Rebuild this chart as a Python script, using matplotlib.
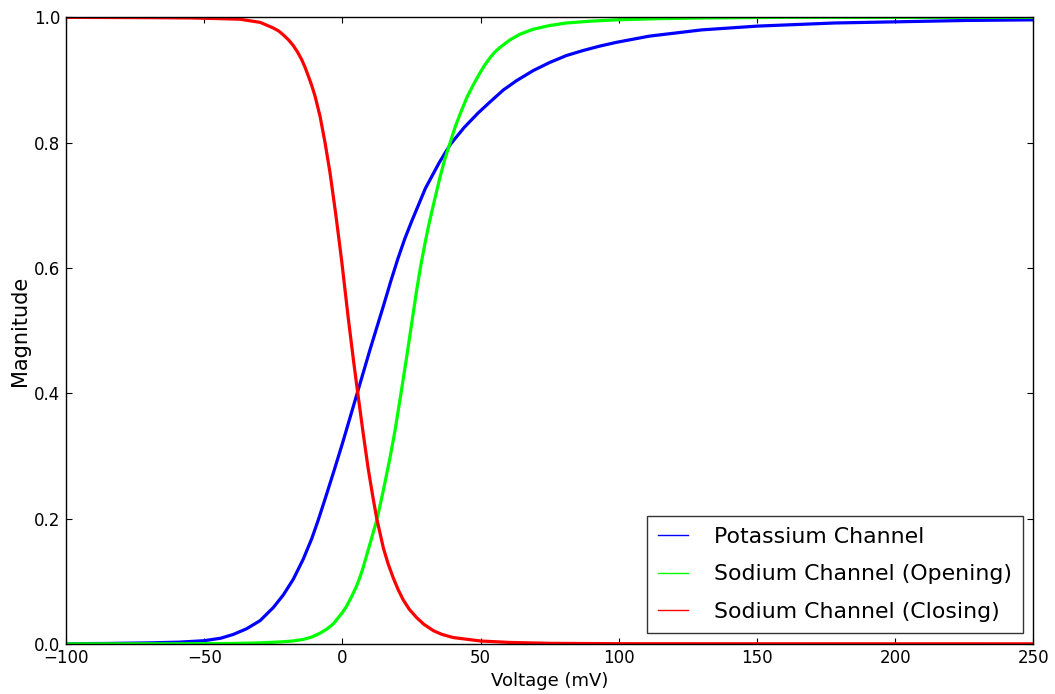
import matplotlib
matplotlib.use("Agg")
import matplotlib.pyplot as plt

# Potassium channel
k_voltage = [-100, -85, -70, -59, -50, -44, -39.5, -34.7, -29.8, -25, -21.4, -17.8,
             -14.2, -11.1, -8.8, -6.3, -3, 0, 3, 6, 10, 15, 17.5, 20, 22.5, 25, 30,
             35, 39, 44, 49, 53.4, 58.2, 63, 69, 75, 81, 87, 93, 99, 111, 130, 150,
             178, 202, 225, 250]
k_value = [0.0002, 0.0006, 0.0015, 0.0027, 0.005, 0.009, 0.015, 0.024, 0.037, 0.058,
           0.078, 0.103, 0.135, 0.168, 0.197, 0.231, 0.277, 0.32, 0.365, 0.41, 0.47,
           0.542, 0.579, 0.614, 0.646, 0.674, 0.727, 0.768, 0.797, 0.824, 0.847,
           0.865, 0.884, 0.899, 0.915, 0.928, 0.939, 0.947, 0.954, 0.960, 0.970,
           0.980, 0.986, 0.991, 0.993, 0.995, 0.996]

# Sodium channel opening
na_open_voltage = [-100, -60, -40, -30, -22.6, -18, -14.2, -11, -8.1, -5.5, -3.3, 0,
                   1.5, 3.5, 5.1, 6.3, 7.5, 9, 10.5, 12.4, 14.8, 17.2, 19, 21, 23.2,
                   25, 26.8, 28.3, 29.8, 31.2, 32.6, 34, 35.3, 37, 38.9, 40.7, 42.5,
                   45, 47.3, 49.7, 51.5, 53.3, 55, 57, 60.6, 64.2, 69, 75, 81, 90, 99,
                   115, 130, 160, 250]
na_open_value = [0.0, 0.0001, 0.0005, 0.0015, 0.003, 0.0045, 0.007, 0.011, 0.017,
                 0.024, 0.032, 0.05, 0.06, 0.077, 0.092, 0.106, 0.122, 0.145, 0.168,
                 0.197, 0.245, 0.297, 0.34, 0.395, 0.457, 0.51, 0.563, 0.603, 0.638,
                 0.668, 0.695, 0.721, 0.745, 0.773, 0.799, 0.824, 0.845, 0.872, 0.892,
                 0.911, 0.924, 0.935, 0.944, 0.952, 0.964, 0.973, 0.981, 0.987, 0.991,
                 0.994, 0.996, 0.998, 0.999, 1.0, 1.0]

# Sodium channel closing
na_close_voltage = [-100, -70, -55, -45, -37.1, -29.8, -25, -23, -21.4, -19.5, -17.8,
                    -16.3, -14.8, -13.6, -12.4, -11.1, -9.9, -8.1, -6.3, -4.5, -2.4,
                    -0.3, 2.1, 4, 5.7, 7.5, 9.3, 11.1, 12.4, 14.8, 16.5, 18.4, 20.2,
                    22, 24.2, 26.8, 29.5, 32.9, 36, 40.1, 50, 60.6, 75, 100, 150, 250]
na_close_value = [1.0, 0.9995, 0.999, 0.998, 0.997, 0.992, 0.983, 0.978, 0.972, 0.964,
                  0.955, 0.945, 0.933, 0.921, 0.907, 0.891, 0.874, 0.842, 0.80, 0.752,
                  0.685, 0.612, 0.52, 0.452, 0.395, 0.336, 0.28, 0.232, 0.2, 0.153,
                  0.128, 0.105, 0.086, 0.07, 0.055, 0.042, 0.031, 0.021, 0.015, 0.01,
                  0.0045, 0.0022, 0.0008, 0.0002, 0.0001, 0.0]

labels = ["Potassium Channel", "Sodium Channel (Opening)", "Sodium Channel (Closing)"]
x_ticks = [-100, -50, 0, 50, 100, 150, 200, 250]
y_ticks = [0.0, 0.2, 0.4, 0.6, 0.8, 1.0]

fig = plt.figure(figsize=(10.55, 6.94), dpi=100)
ax = fig.add_axes([0.0626, 0.0723, 0.917, 0.9027])

ax.plot(k_voltage, k_value, color=(0, 0, 1), lw=2.3, label=labels[0])
ax.plot(na_open_voltage, na_open_value, color=(0, 1, 0), lw=2.3, label=labels[1])
ax.plot(na_close_voltage, na_close_value, color=(1, 0, 0), lw=2.3, label=labels[2])

ax.set_xlim(-100, 250)
ax.set_ylim(0, 1.0)
ax.set_xticks(x_ticks)
ax.set_yticks(y_ticks)
ax.set_yticklabels([f"{v:.1f}" for v in y_ticks])
ax.tick_params(direction="in", top=True, right=True, length=4, width=0.8,
               labelsize=12, pad=4)
for s in ax.spines.values():
    s.set_color("black")
    s.set_linewidth(1.0)

ax.set_xlabel("Voltage (mV)", fontsize=13, labelpad=3)
ax.set_ylabel("Magnitude", fontsize=15, labelpad=3)

leg = ax.legend(loc="lower right", fontsize=15.8, fancybox=False, frameon=True,
                handlelength=1.4, handletextpad=1.15, labelspacing=0.8,
                borderaxespad=0.5, borderpad=0.5)
leg.get_frame().set_edgecolor("black")
leg.get_frame().set_linewidth(1.0)
for ln in leg.get_lines():
    ln.set_linewidth(1.0)

fig.savefig("out.png", dpi=100, facecolor="white")
